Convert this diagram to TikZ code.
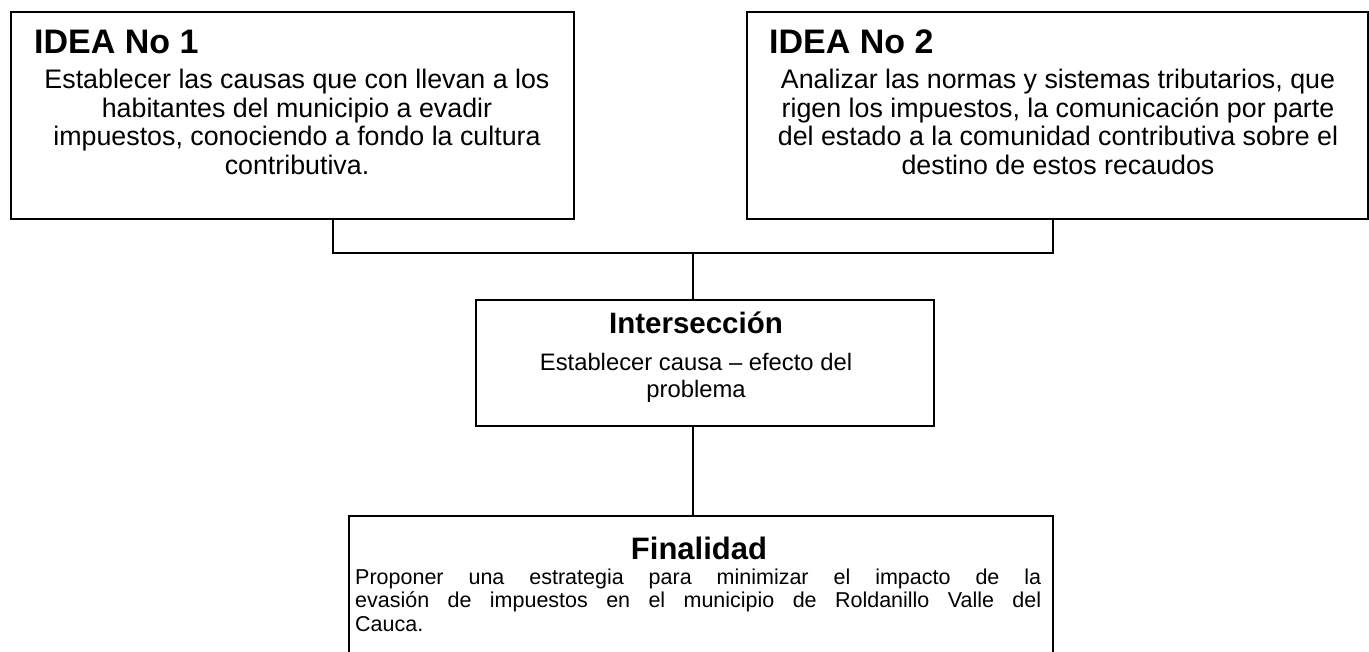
\documentclass[tikz,border=0pt]{standalone}
\usepackage{fontspec}
\setmainfont{Liberation Sans}
\begin{document}
\begin{tikzpicture}[x=1pt,y=-1pt,
  box/.style={draw=black, line width=1.1pt, inner sep=0pt, outer sep=0pt},
  conn/.style={draw=black, line width=1.1pt},
  head/.style={inner sep=0pt, font=\fontsize{34}{38}\selectfont\bfseries},
  headc/.style={inner sep=0pt, font=\fontsize{29.5}{34}\selectfont\bfseries},
  headd/.style={inner sep=0pt, font=\fontsize{31}{34}\selectfont\bfseries},
  bodyA/.style={inner sep=0pt, font=\fontsize{26.8}{28}\selectfont},
  bodyB/.style={inner sep=0pt, font=\fontsize{23.8}{27}\selectfont},
  bodyC/.style={inner sep=0pt, font=\fontsize{21.5}{23.5}\selectfont}]
\useasboundingbox (0,0) rectangle (1369,652);
\clip (0,0) rectangle (1369,652);
\fill[white] (0,0) rectangle (1369,652);

% boxes
\node[box, minimum width=563pt, minimum height=207pt] (b1) at (292.5,115.5) {};
\node[box, minimum width=621pt, minimum height=207pt] (b2) at (1057.5,115.5) {};
\node[box, minimum width=458pt, minimum height=126pt] (b3) at (705,363) {};
\node[box, minimum width=704pt, minimum height=184pt] (b4) at (701,608) {};

% connectors
\coordinate (jl) at (333,253);
\coordinate (jr) at (1053,253);
\coordinate (jm) at (693,253);
\draw[conn] (b1.south -| jl) -- (jl) -- (jr) -- (b2.south -| jr);
\draw[conn] (jm) -- (b3.north -| jm);
\draw[conn] (b3.south -| jm) -- (b4.north -| jm);

% box 1 texts
\node[head, anchor=base west] (h1) at (34,54) {IDEA No 1};
\node[bodyA, anchor=base] (t1a) at (297,89) {Establecer las causas que con llevan a los};
\node[bodyA, anchor=base] (t1b) at (297,117.5) {habitantes del municipio a evadir};
\node[bodyA, anchor=base] (t1c) at (297,146) {impuestos, conociendo a fondo la cultura};
\node[bodyA, anchor=base] (t1d) at (297,174.5) {contributiva.};

% box 2 texts
\node[head, anchor=base west] (h2) at (769,54) {IDEA No 2};
\node[bodyA, anchor=base] (t2a) at (1058,89) {Analizar las normas y sistemas tributarios, que};
\node[bodyA, anchor=base] (t2b) at (1058,117.5) {rigen los impuestos, la comunicación por parte};
\node[bodyA, anchor=base] (t2c) at (1058,146) {del estado a la comunidad contributiva sobre el};
\node[bodyA, anchor=base] (t2d) at (1058,174.5) {destino de estos recaudos};

% intersection texts
\node[headc, anchor=base] (h3) at (696,334) {Intersección};
\node[bodyB, anchor=base] (t3a) at (696,370.5) {Establecer causa – efecto del};
\node[bodyB, anchor=base] (t3b) at (696,397.5) {problema};

% finalidad texts
\node[headd, anchor=base] (h4) at (699,559) {Finalidad};
\node[bodyC, anchor=base west] (t4a) at (355,584) {\makebox[686pt][s]{Proponer una estrategia para minimizar el impacto de la}};
\node[bodyC, anchor=base west] (t4b) at (355,607.5) {\makebox[686pt][s]{evasión de impuestos en el municipio de Roldanillo Valle del}};
\node[bodyC, anchor=base west] (t4c) at (355,631) {Cauca.};
\end{tikzpicture}
\end{document}
